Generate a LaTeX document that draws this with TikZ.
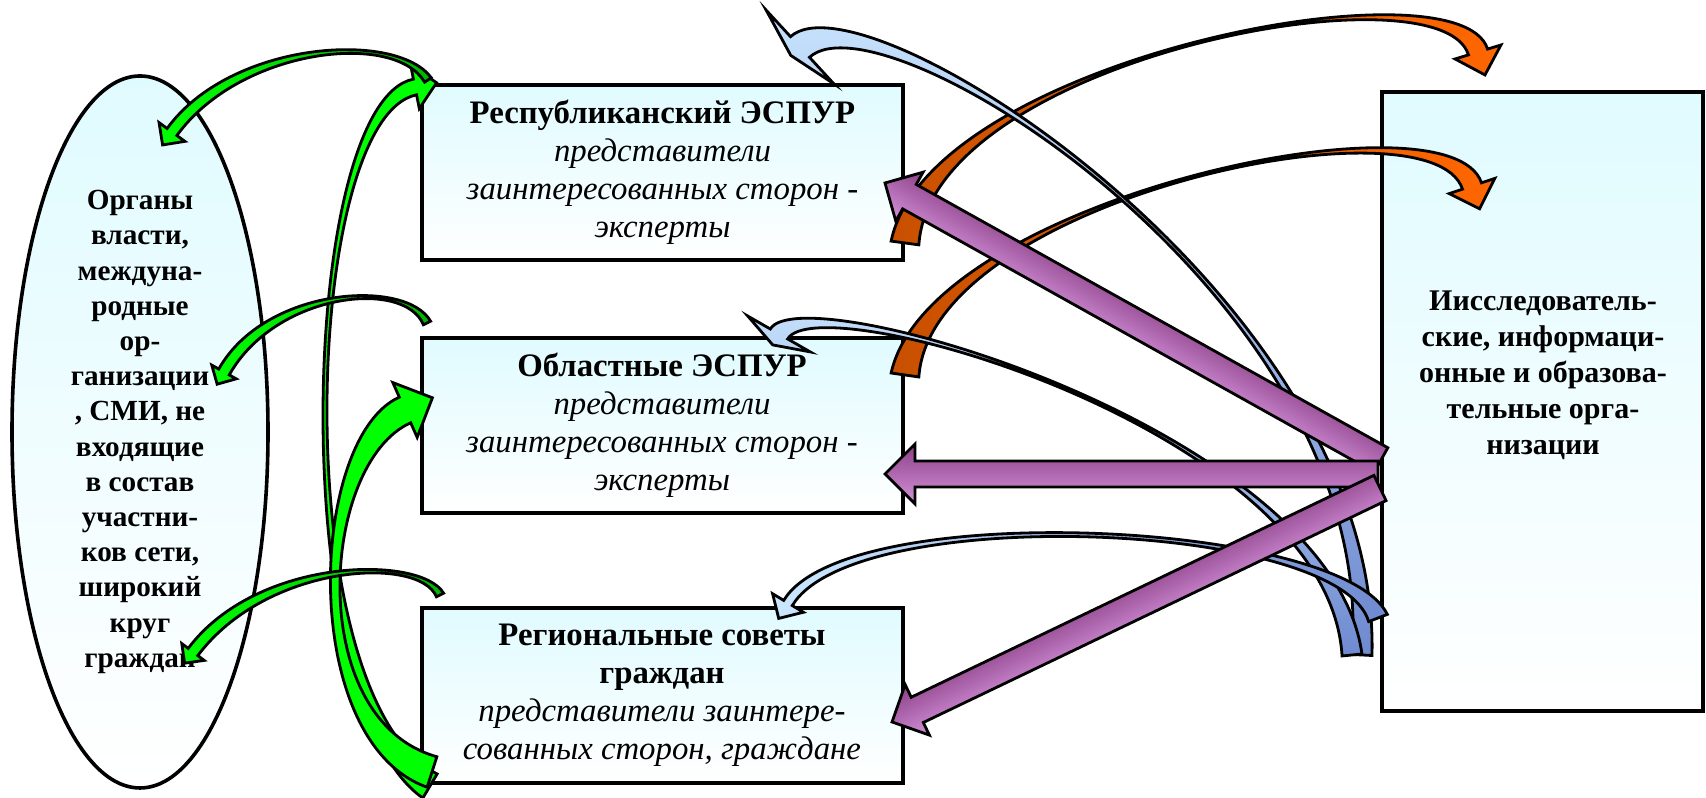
\documentclass[tikz,border=0pt]{standalone}
\usepackage{fontspec}
\setmainfont{Liberation Serif}
\usetikzlibrary{calc,shapes.geometric}
\definecolor{boxc}{HTML}{E0FBFF}
\definecolor{grnc}{HTML}{00FF00}
\definecolor{grnd}{HTML}{00B400}
\definecolor{orc}{HTML}{FF6600}
\definecolor{ord}{HTML}{C85000}
\definecolor{blc}{HTML}{CCE8FF}
\definecolor{bld}{HTML}{6F8AD0}
\definecolor{plc}{HTML}{D392D9}
\definecolor{pld}{HTML}{8C4087}
\tikzset{
  box/.style={draw, line width=1pt, top color=boxc, bottom color=white, minimum width=120.25pt,
    minimum height=43.75pt, inner sep=0pt, align=center, font=\fontsize{8.2}{9.5}\selectfont},
  arr/.style={draw=black, line width=0.7pt},
  grn/.style={arr, fill=grnc},
  grnr/.style={arr, left color=grnc, middle color=grnc, right color=grnd},
  orn/.style={arr, left color=ord, middle color=orc, right color=orc},
  blu/.style={arr, top color=blc, middle color=blc, bottom color=bld},
  blur/.style={arr, left color=blc, middle color=blc, right color=bld},
  prp/.style={arr, top color=plc, bottom color=pld},
}
\def\hlf{1}% head length / head width
% curved band: style, tail, c1, c2, head base, tail w, c1 w, shaft w, head w
\newcommand\ribbon[9]{%
  \pgfmathsetlengthmacro\htip{-\hlf*#9}%
  \path[#1] ($(#2)!#6!90:(#3)$)
    .. controls ($(#3)!#7!-90:(#2)$) and ($(#4)!#8!90:(#5)$) .. ($(#5)!#8!-90:(#4)$)
    -- ($(#5)!#9!-90:(#4)$) -- ($(#5)!\htip!(#4)$) -- ($(#5)!#9!90:(#4)$)
    -- ($(#5)!#8!90:(#4)$)
    .. controls ($(#4)!#8!-90:(#5)$) and ($(#3)!#7!90:(#2)$) .. ($(#2)!#6!-90:(#3)$)
    -- cycle;}
% straight block arrow: tail, tip, shaft w, head w
\newcommand\barrow[4]{%
  \path let \p1=($(#2)-(#1)$), \n1={atan2(\y1,\x1)}, \n2={veclen(\x1,\y1)} in
    \pgfextra{\xdef\bang{\n1}\xdef\blen{\n2}};
  \pgfmathsetlengthmacro\bhx{\blen-#4}
  \begin{scope}[transform canvas={shift={(#1)}, rotate=\bang}]
    \path[prp] (0pt,#3) -- (\bhx,#3) -- (\bhx,#4) -- (\blen,0pt) -- (\bhx,-#4)
      -- (\bhx,-#3) -- (0pt,-#3) -- cycle;
  \end{scope}}
\begin{document}
\begin{tikzpicture}[x=0.25pt,y=-0.25pt]
\useasboundingbox (0,0) rectangle (1706,798);

% participants
\node[ellipse, draw, line width=0.9pt, top color=boxc, bottom color=white, minimum width=64pt,
  minimum height=178pt, inner sep=0pt, align=center,
  font=\bfseries\fontsize{7.3}{8.8}\selectfont] (org) at (140,432)
  {Органы\\власти,\\междуна-\\родные\\ор-\\ганизации\\, СМИ, не\\входящие\\в состав\\участни-\\ков сети,\\широкий\\круг\\граждан};
\node[box] (rep) at (662.5,172.5) {\textbf{Республиканский ЭСПУР}\\ \textit{представители}\\
  \textit{заинтересованных сторон -}\\ \textit{эксперты}};
\node[box] (obl) at (662,425.5) {\textbf{Областные ЭСПУР}\\ \textit{представители}\\
  \textit{заинтересованных сторон -}\\ \textit{эксперты}};
\node[box] (reg) at (662,695.5) {\textbf{Региональные советы}\\ \textbf{граждан}\\
  \textit{представители заинтере-}\\ \textit{сованных сторон, граждане}};
\node[box, minimum width=80.25pt, minimum height=154.75pt] (ir) at (1542.5,401.5) {};
\node[align=center, font=\bfseries\fontsize{7.5}{9}\selectfont] (irtxt) at (1543,375)
  {Иисследователь-\\ские, информаци-\\онные и образова-\\тельные орга-\\низации};

% green arrows
\ribbon{grn}{430,786}{285,700}{300,110}{415,87}{3.5pt}{0.4pt}{2pt}{5.5pt}
\ribbon{grn}{432,772}{300,730}{315,450}{405,410}{4pt}{2.8pt}{3.5pt}{7.5pt}
\ribbon{grnr}{428,80}{395,30}{235,45}{172,132}{1pt}{0.2pt}{1.5pt}{4pt}
\ribbon{grnr}{427,323}{405,278}{270,290}{224,372}{1pt}{0.2pt}{1.5pt}{3.5pt}
\ribbon{grnr}{440,595}{420,555}{262,560}{193,652}{1pt}{0.2pt}{1.5pt}{3.5pt}

% orange arrows
\ribbon{orn}{905,243}{930,60}{1450,-40}{1478,52}{3.5pt}{0.25pt}{2.5pt}{6pt}
\ribbon{orn}{905,375}{930,200}{1440,90}{1472,186}{3.5pt}{0.25pt}{2.5pt}{6pt}

% light blue arrows
{\def\hlf{0.25}
\ribbon{blu}{1362,655}{1380,300}{874,-21}{800,47}{2.5pt}{0.3pt}{3.5pt}{12.5pt}
\def\hlf{0.35}
\ribbon{blu}{1352,655}{1330,430}{810,280}{779,334}{2.5pt}{0.3pt}{2.5pt}{9pt}}
\ribbon{blur}{1378,618}{1340,520}{850,500}{788,603}{2.5pt}{0.25pt}{1.25pt}{4.5pt}

% purple arrows
\coordinate (p1t) at (1381,460);
\coordinate (p1h) at (885,183);
\coordinate (p2t) at (1378,474);
\coordinate (p2h) at (885,474);
\coordinate (p3t) at (1380,488);
\coordinate (p3h) at (892,722);
\barrow{p1t}{p1h}{3.5pt}{7pt}
\barrow{p2t}{p2h}{3.25pt}{7.5pt}
\barrow{p3t}{p3h}{3.5pt}{7pt}
\end{tikzpicture}
\end{document}
